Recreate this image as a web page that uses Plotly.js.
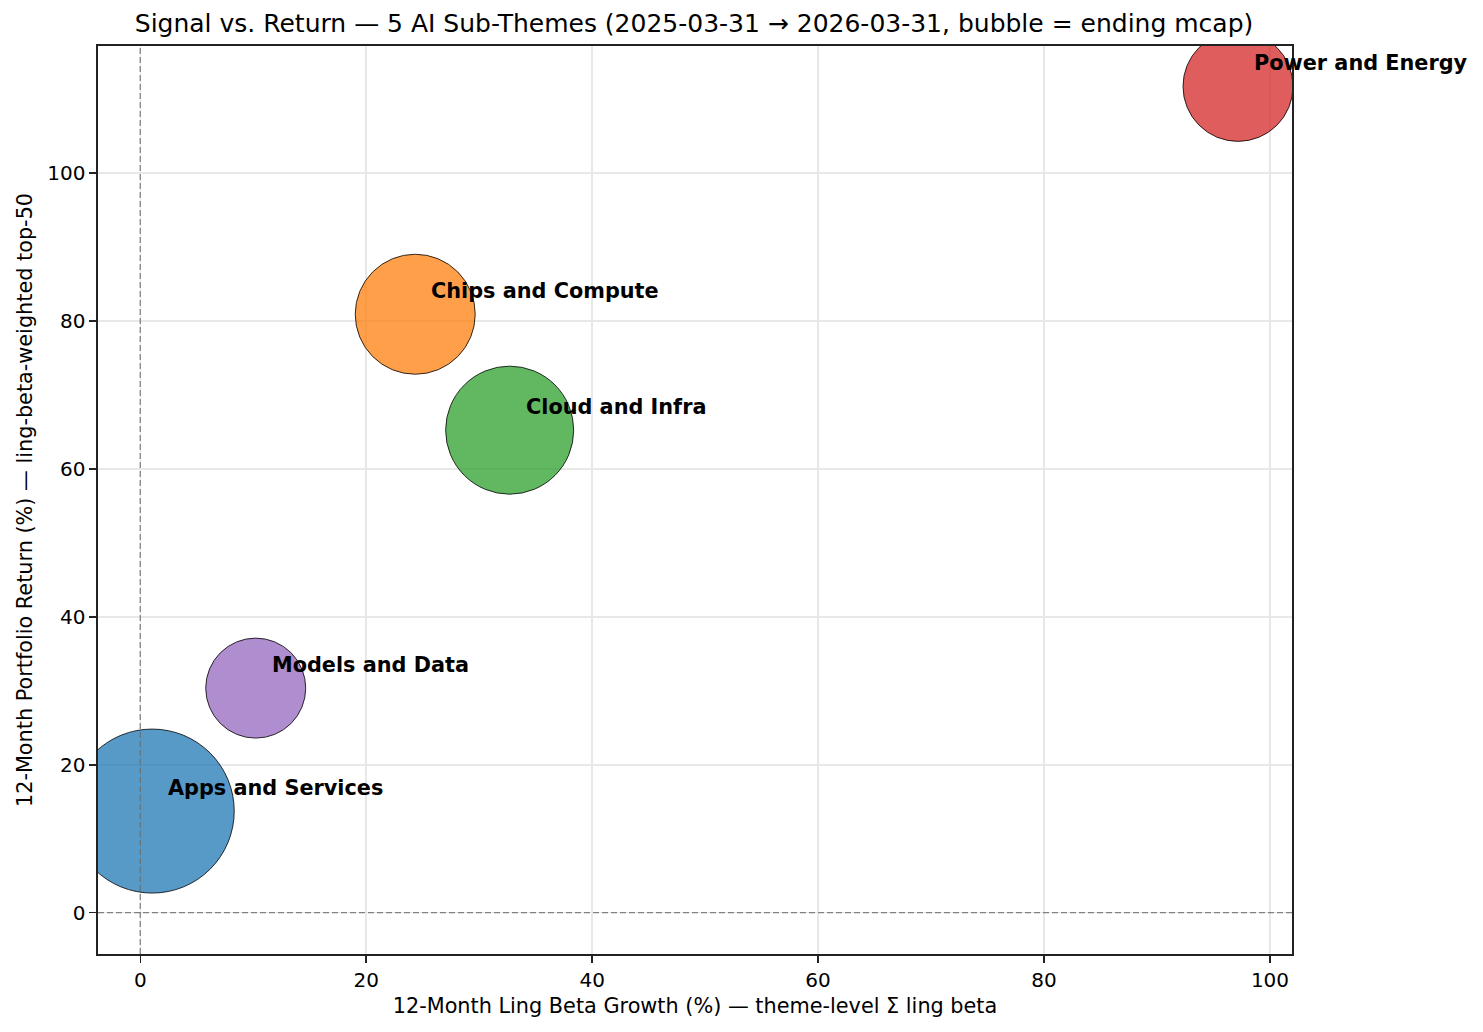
<!DOCTYPE html>
<html>
<head>
<meta charset="utf-8">
<script src="https://cdn.plot.ly/plotly-3.0.1.min.js"></script>
<style>html,body{margin:0;padding:0;background:#fff;}</style>
</head>
<body>
<div id="chart" style="width:1483px;height:1032px;"></div>
<script>
// Data
const themes = ["Apps and Services", "Chips and Compute", "Cloud and Infra", "Power and Energy", "Models and Data"];
const betaGrowth = [1.06, 24.34, 32.7, 97.17, 10.22];      // 12-month ling beta growth (%)
const portReturn = [13.74, 80.9, 65.23, 111.7, 30.36];     // 12-month portfolio return (%)
const endingMcap = [26.9, 14.4, 16.4, 12.1, 10.0];         // ending market cap (relative, bubble area)
const themeColors = ["#1f77b4", "#ff7f0e", "#2ca02c", "#d62728", "#9467bd"];

function rgba(hex, a) {
  const r = parseInt(hex.slice(1,3),16), g = parseInt(hex.slice(3,5),16), b = parseInt(hex.slice(5,7),16);
  return `rgba(${r},${g},${b},${a})`;
}

const trace = {
  type: "scatter",
  mode: "markers",
  x: betaGrowth,
  y: portReturn,
  text: themes,
  hoverinfo: "text",
  marker: {
    size: endingMcap,
    sizemode: "area",
    sizeref: 0.002,
    opacity: 1,
    color: themeColors.map(c => rgba(c, 0.75)),
    line: {color: "rgba(0,0,0,0.8)", width: 1}
  },
  cliponaxis: true,
  showlegend: false
};

const annotations = themes.map((t, i) => ({
  x: betaGrowth[i], y: portReturn[i], xref: "x", yref: "y",
  text: "<b>" + t + "</b>", showarrow: false,
  xanchor: "left", yanchor: "middle", xshift: 14, yshift: 23,
  font: {family: "DejaVu Sans", size: 20.8, color: "#000"}
}));

const grid = "#e8e8e8";
const layout = {
  width: 1483, height: 1032,
  margin: {l: 98, r: 191, t: 46, b: 78, pad: 0},
  paper_bgcolor: "#fff", plot_bgcolor: "#fff",
  font: {family: "DejaVu Sans", color: "#000"},
  title: {
    text: "Signal vs. Return — 5 AI Sub-Themes (2025-03-31 → 2026-03-31, bubble = ending mcap)",
    font: {family: "DejaVu Sans", size: 25, color: "#000"},
    x: 0.468, xanchor: "center", y: 0.977, yanchor: "middle"
  },
  xaxis: {
    range: [-3.74, 101.95],
    tickvals: [0, 20, 40, 60, 80, 100],
    showgrid: true, gridcolor: grid, gridwidth: 1.5,
    zeroline: false,
    showline: true, linecolor: "#222", linewidth: 1.6, mirror: true,
    ticks: "outside", ticklen: 7, tickwidth: 1.5, tickcolor: "#222",
    tickfont: {family: "DejaVu Sans", size: 20, color: "#000"},
    title: {text: "12-Month Ling Beta Growth (%) — theme-level Σ ling beta",
            font: {family: "DejaVu Sans", size: 20.8, color: "#000"}, standoff: 8}
  },
  yaxis: {
    range: [-5.58, 117.16],
    tickvals: [0, 20, 40, 60, 80, 100],
    showgrid: true, gridcolor: grid, gridwidth: 1.5,
    zeroline: false,
    showline: true, linecolor: "#222", linewidth: 1.6, mirror: true,
    ticks: "outside", ticklen: 7, tickwidth: 1.5, tickcolor: "#222",
    tickfont: {family: "DejaVu Sans", size: 20, color: "#000"},
    title: {text: "12-Month Portfolio Return (%) — ling-beta-weighted top-50",
            font: {family: "DejaVu Sans", size: 20.8, color: "#000"}, standoff: 9}
  },
  shapes: [
    {type: "line", xref: "x", yref: "paper", x0: 0, x1: 0, y0: 0, y1: 1,
     line: {color: "rgba(110,110,110,0.85)", width: 1.3, dash: "6px,3px"}, layer: "above"},
    {type: "line", xref: "paper", yref: "y", x0: 0, x1: 1, y0: 0, y1: 0,
     line: {color: "rgba(110,110,110,0.85)", width: 1.3, dash: "6px,3px"}, layer: "above"}
  ],
  annotations: annotations
};

Plotly.newPlot("chart", [trace], layout, {displayModeBar: false, staticPlot: true});
</script>
</body>
</html>
